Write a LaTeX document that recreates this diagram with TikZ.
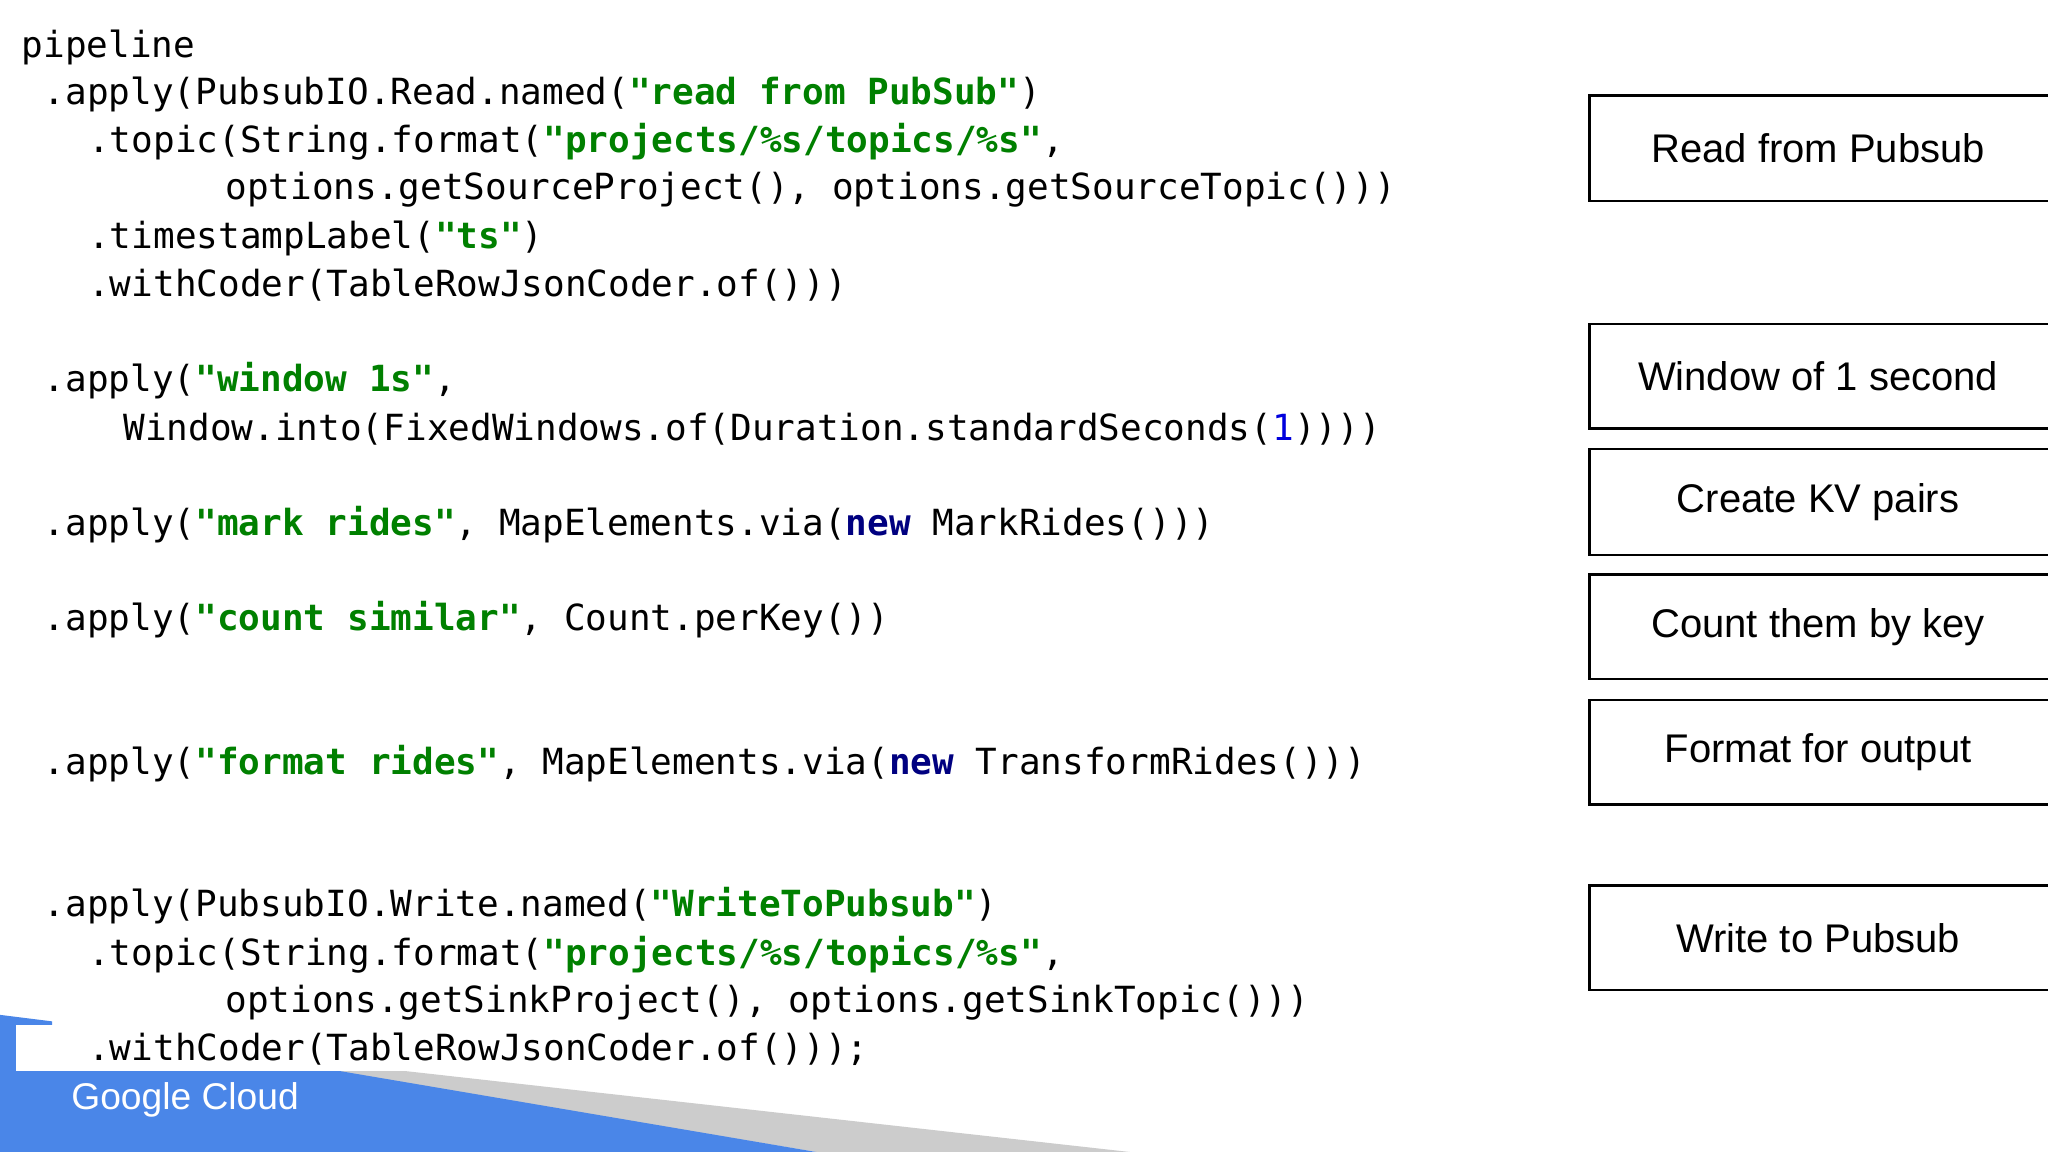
\documentclass[tikz,border=0pt]{standalone}
\usepackage{fontspec}
\setmainfont{Liberation Sans}
\newfontfamily\codef{DejaVu Sans Mono}
\definecolor{strg}{HTML}{008000}
\definecolor{kw}{HTML}{000080}
\definecolor{num}{HTML}{0000DD}
\definecolor{gblue}{HTML}{4A86E8}
\definecolor{ggray}{HTML}{CCCCCC}
\newcommand\gs[1]{\textcolor{strg}{\textbf{#1}}}
\newcommand\kwd[1]{\textcolor{kw}{\textbf{#1}}}
\begin{document}
\begin{tikzpicture}[x=0.3265pt,y=-0.3265pt,
  code/.style={anchor=base west,inner sep=0pt,font=\codef\fontsize{9}{11}\selectfont},
  stage/.style={draw=black,line width=0.6pt,minimum width=0,inner sep=0pt,font=\fontsize{10}{12}\selectfont}]
\useasboundingbox (0,0) rectangle (1568,882);
\fill[white] (0,0) rectangle (1568,882);
% footer
\fill[ggray] (250,820) -- (310,820) -- (865,882) -- (625,882) -- cycle;
\fill[gblue] (0,777) -- (40,782) -- (40,820) -- (260,820) -- (625,882) -- (0,882) -- cycle;
\fill[white] (12,785) rectangle (260,820);
\node[anchor=west,inner sep=0pt,text=white,font=\fontsize{9.3}{11}\selectfont] (gc) at (54,842) {Google Cloud};
% code
\node[code] (l1) at (16,44) {pipeline};
\node[code] (l2) at (33,80) {.apply(PubsubIO.Read.named(\gs{"read from PubSub"})};
\node[code] (l3) at (67,117) {.topic(String.format(\gs{"projects/\%s/topics/\%s"},};
\node[code] (l4) at (172,153) {options.getSourceProject(), options.getSourceTopic()))};
\node[code] (l5) at (67,190) {.timestampLabel(\gs{"ts"})};
\node[code] (l6) at (67,227) {.withCoder(TableRowJsonCoder.of()))};
\node[code] (l7) at (33,300) {.apply(\gs{"window 1s"},};
\node[code] (l8) at (94,337) {Window.into(FixedWindows.of(Duration.standardSeconds(\textcolor{num}{1}))))};
\node[code] (l9) at (33,410) {.apply(\gs{"mark rides"}, MapElements.via(\kwd{new} MarkRides()))};
\node[code] (l10) at (33,483) {.apply(\gs{"count similar"}, Count.perKey())};
\node[code] (l11) at (33,593) {.apply(\gs{"format rides"}, MapElements.via(\kwd{new} TransformRides()))};
\node[code] (l12) at (33,702) {.apply(PubsubIO.Write.named(\gs{"WriteToPubsub"})};
\node[code] (l13) at (67,739) {.topic(String.format(\gs{"projects/\%s/topics/\%s"},};
\node[code] (l14) at (172,775) {options.getSinkProject(), options.getSinkTopic()))};
\node[code] (l15) at (67,812) {.withCoder(TableRowJsonCoder.of()));};
% stages
\foreach \n/\t/\b/\txt in {s1/73/154/Read from Pubsub, s2/248/328/Window of 1 second, s3/344/425/Create KV pairs, s4/440/520/Count them by key, s5/536/616/Format for output, s6/678/758/Write to Pubsub}{
  \draw[line width=0.6pt] (1217,\t) rectangle (1570,\b);
  \node[inner sep=0pt,font=\fontsize{10}{12}\selectfont] (\n) at (1392,{(\t+\b)/2}) {\txt};
}
\end{tikzpicture}
\end{document}
